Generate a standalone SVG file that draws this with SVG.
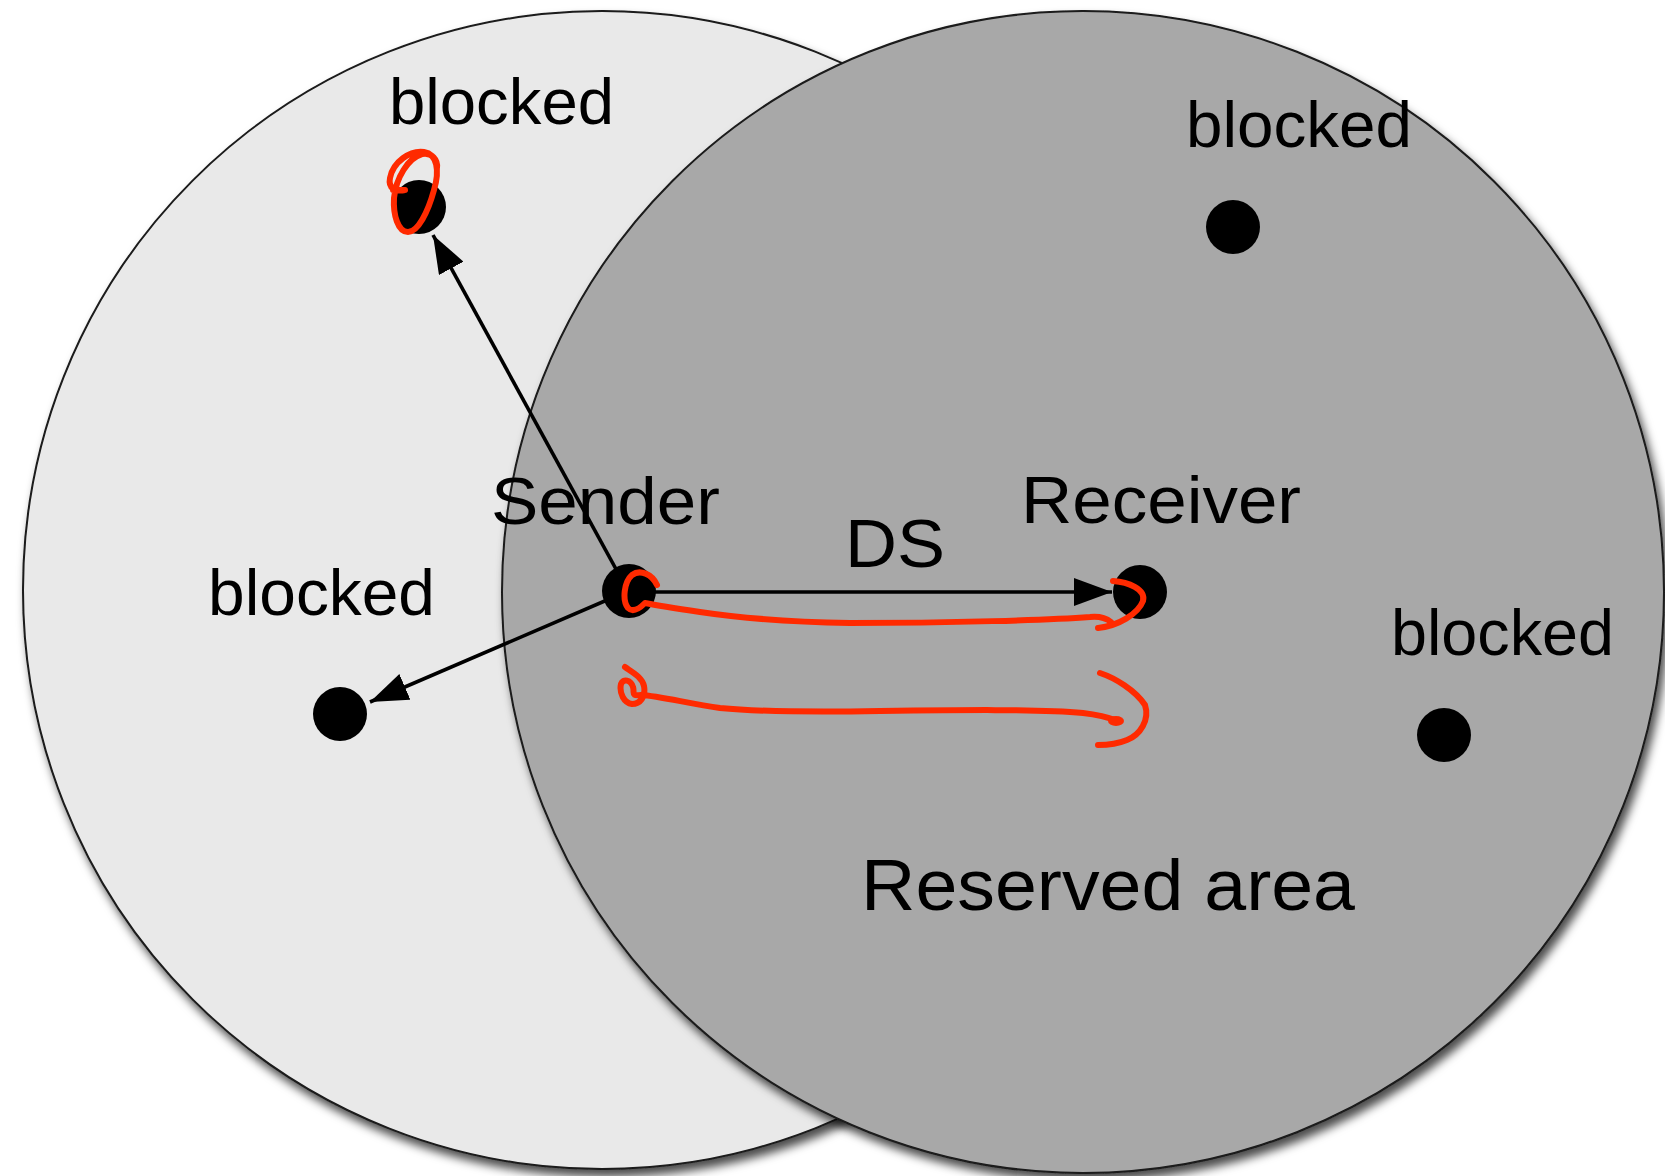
<svg xmlns="http://www.w3.org/2000/svg" width="1665" height="1176" viewBox="0 0 1665 1176">
  <defs>
    <filter id="shadow" x="-10%" y="-10%" width="125%" height="125%">
      <feDropShadow dx="4" dy="7" stdDeviation="5" flood-color="#000" flood-opacity="0.7"/>
    </filter>
    <marker id="arrow" viewBox="0 0 38 28" refX="38" refY="14" markerWidth="38" markerHeight="28" markerUnits="userSpaceOnUse" orient="auto">
      <path d="M0,0 L38,14 L0,28 z" fill="#000"/>
    </marker>
  </defs>
  <style>
    .area { stroke: #1a1a1a; stroke-width: 2; filter: url(#shadow); }
    .dot { fill: #000; }
    .lbl { font-family: "Liberation Sans", Arial, Helvetica, sans-serif; fill: #000; }
    .conn { stroke: #000; stroke-width: 3.6; fill: none; }
    .red { stroke: #ff2a00; stroke-width: 6; fill: none; stroke-linecap: round; stroke-linejoin: round; }
  </style>
  <rect width="1665" height="1176" fill="#fff"/>

  <g id="sender-range">
    <circle class="area" cx="602" cy="590" r="579" fill="#e9e9e9"/>
  </g>
  <g id="reserved-area">
    <circle class="area" cx="1083" cy="592" r="581" fill="#a8a8a8"/>
    <text class="lbl" x="861" y="910" font-size="72" textLength="494" lengthAdjust="spacingAndGlyphs">Reserved area</text>
  </g>

  <g id="connectors">
    <line class="conn" x1="628" y1="591" x2="433" y2="235" marker-end="url(#arrow)"/>
    <line class="conn" x1="628" y1="591" x2="370" y2="702" marker-end="url(#arrow)"/>
    <line class="conn" x1="628" y1="592" x2="1112" y2="592" marker-end="url(#arrow)"/>
    <text class="lbl" x="845" y="567" font-size="69" textLength="100" lengthAdjust="spacingAndGlyphs">DS</text>
  </g>

  <g id="blocked-top-left">
    <circle class="dot" cx="419" cy="207" r="27"/>
    <text class="lbl" x="389" y="124" font-size="65" textLength="225" lengthAdjust="spacingAndGlyphs">blocked</text>
  </g>
  <g id="blocked-left">
    <circle class="dot" cx="340" cy="714" r="27"/>
    <text class="lbl" x="208" y="615" font-size="65" textLength="227" lengthAdjust="spacingAndGlyphs">blocked</text>
  </g>
  <g id="blocked-top-right">
    <circle class="dot" cx="1233" cy="227" r="27"/>
    <text class="lbl" x="1186" y="147" font-size="65" textLength="226" lengthAdjust="spacingAndGlyphs">blocked</text>
  </g>
  <g id="blocked-right">
    <circle class="dot" cx="1444" cy="735" r="27"/>
    <text class="lbl" x="1391" y="655" font-size="65" textLength="223" lengthAdjust="spacingAndGlyphs">blocked</text>
  </g>
  <g id="sender">
    <circle class="dot" cx="629" cy="591" r="27"/>
    <text class="lbl" x="491" y="524" font-size="67" textLength="229" lengthAdjust="spacingAndGlyphs">Sender</text>
  </g>
  <g id="receiver">
    <circle class="dot" cx="1140" cy="592" r="27"/>
    <text class="lbl" x="1021" y="523" font-size="67" textLength="280" lengthAdjust="spacingAndGlyphs">Receiver</text>
  </g>

  <g id="annotations">
    <path class="red" d="M393,190 L405,190 M405,190 C395,192 388,188 390,178 C393,162 410,150 424,152 C437,154 440,170 434,190 C428,212 418,232 408,232 C398,232 393,215 394,198 C396,178 408,158 422,154 C432,152 438,160 437,168"/>
    <path class="red" d="M657,585 C652,574 640,569 632,575 C624,582 622,600 628,608 C633,613 640,608 645,603 C660,606 680,609 700,612 C740,618 790,622 850,623 C950,623 1050,620 1090,617 C1100,616 1106,618 1111,622"/>
    <path class="red" d="M1098,628 C1118,626 1138,614 1143,601 C1146,589 1128,582 1113,581"/>
    <path class="red" d="M625,667 C632,672 642,677 644,686 C646,697 640,704 632,704 C624,703 619,693 621,684 C623,678 631,680 633,687 C635,693 630,696 641,695 C660,696 690,704 720,708 C760,712 820,712 880,711 C960,710 1040,709 1083,713 C1100,715 1110,718 1118,721"/>
    <ellipse cx="1116" cy="721" rx="8" ry="5" fill="#ff2a00"/>
    <path class="red" d="M1100,673 C1115,678 1135,690 1145,705 C1150,720 1140,735 1127,740 C1115,745 1105,745 1098,745"/>
  </g>
</svg>
